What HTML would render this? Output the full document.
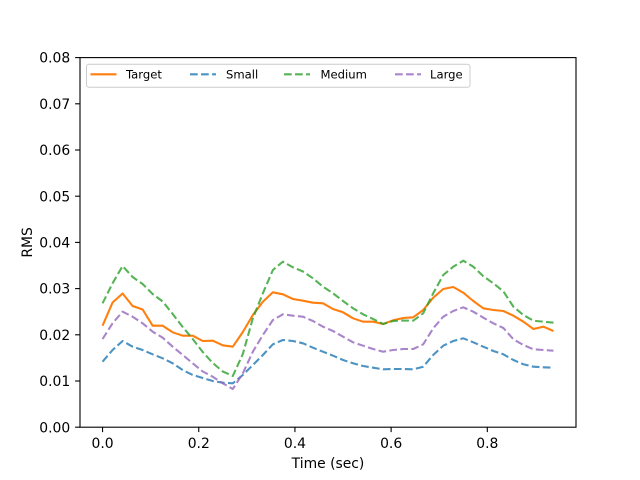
<!DOCTYPE html>
<html>
<head>
<meta charset="utf-8">
<style>
html,body{margin:0;padding:0;background:#fff;}
svg{display:block;}
text{font-family:"DejaVu Sans","Liberation Sans",sans-serif;fill:#000;}
</style>
</head>
<body>
<svg width="640" height="480" viewBox="0 0 640 480" xmlns="http://www.w3.org/2000/svg">
<rect x="0" y="0" width="640" height="480" fill="#fff"/>

<!-- series -->
<g fill="none" stroke-width="2.08" stroke-linejoin="round">
<polyline stroke="#ff7f0e" points="102.55,325.7 112.57,302.5 122.59,293.5 132.61,306 142.63,309.5 152.65,325.7 162.67,325.7 172.69,332.3 182.71,335.7 192.73,335.7 202.75,341 212.77,340.7 222.79,345.3 232.81,346.7 242.83,332 252.85,315 262.87,301.7 272.89,292.3 282.91,294.3 292.93,299 302.95,300.7 312.97,302.7 322.99,303.3 333.01,309 343.03,312.3 353.06,318.3 363.08,321.7 373.10,321.7 383.12,324 393.14,320.3 403.16,318 413.18,317.3 423.20,310 433.22,297.7 443.24,289 453.26,287 463.28,292.7 473.30,301 483.32,308.3 493.34,310 503.36,311 513.38,315.7 523.40,321.7 533.42,329 543.44,326.7 553.46,331"/>
<polyline stroke="#1f77b4" stroke-opacity="0.8" stroke-dasharray="7.7,3.33" points="102.55,361.7 112.57,350 122.59,341 132.61,346.7 142.63,350 152.65,354.3 162.67,358.3 172.69,363.3 182.71,370 192.73,375 202.75,378 212.77,381 222.79,382.7 232.81,383.3 242.83,375 252.85,365 262.87,355 272.89,344.3 282.91,340 292.93,341 302.95,343.3 312.97,347.7 322.99,351.7 333.01,355.7 343.03,360 353.06,363.3 363.08,366 373.10,367.7 383.12,369.3 393.14,369 403.16,369 413.18,369.3 423.20,366.7 433.22,355 443.24,345.7 453.26,341 463.28,338.3 473.30,342.3 483.32,346.7 493.34,351 503.36,354.3 513.38,360 523.40,364.3 533.42,366.7 543.44,367.3 553.46,367.7"/>
<polyline stroke="#2ca02c" stroke-opacity="0.8" stroke-dasharray="7.7,3.33" points="102.55,303.3 112.57,283.3 122.59,266 132.61,277 142.63,284 152.65,294 162.67,301.5 172.69,314 182.71,327 192.73,339 202.75,352 212.77,363 222.79,371.5 232.81,376 242.83,354 252.85,318.3 262.87,293.3 272.89,270 282.91,261.7 292.93,267.3 302.95,271.5 312.97,278.3 322.99,286.7 333.01,293.3 343.03,301 353.06,308.3 363.08,314.3 373.10,319 383.12,324 393.14,321 403.16,320.5 413.18,320.7 423.20,313.3 433.22,293.3 443.24,275 453.26,266.7 463.28,260.7 473.30,266.7 483.32,276.2 493.34,283.3 503.36,291.3 513.38,306.7 523.40,315 533.42,320.7 543.44,321.7 553.46,322.7"/>
<polyline stroke="#9467bd" stroke-opacity="0.8" stroke-dasharray="7.7,3.33" points="102.55,339 112.57,323.3 122.59,311.7 132.61,316.7 142.63,323.3 152.65,331.7 162.67,337.7 172.69,346.7 182.71,355 192.73,363.3 202.75,371.5 212.77,376.7 222.79,383.3 232.81,389 242.83,373.3 252.85,351.7 262.87,335 272.89,320 282.91,314.3 292.93,315.7 302.95,316.7 312.97,321 322.99,326.7 333.01,331 343.03,336.7 353.06,342.3 363.08,345.7 373.10,349 383.12,351.7 393.14,350 403.16,349 413.18,349 423.20,344.3 433.22,328.3 443.24,316.7 453.26,311 463.28,307.3 473.30,311.7 483.32,317.7 493.34,323.3 503.36,328 513.38,339.3 523.40,345 533.42,349.3 543.44,350 553.46,350.7"/>
</g>

<!-- axes frame -->
<rect x="80" y="57.6" width="496" height="369.6" fill="none" stroke="#000" stroke-width="1.1"/>

<!-- y ticks -->
<g stroke="#000" stroke-width="1.1">
<line x1="75.1" y1="427.2" x2="80" y2="427.2"/>
<line x1="75.1" y1="381.0" x2="80" y2="381.0"/>
<line x1="75.1" y1="334.8" x2="80" y2="334.8"/>
<line x1="75.1" y1="288.6" x2="80" y2="288.6"/>
<line x1="75.1" y1="242.4" x2="80" y2="242.4"/>
<line x1="75.1" y1="196.2" x2="80" y2="196.2"/>
<line x1="75.1" y1="150.0" x2="80" y2="150.0"/>
<line x1="75.1" y1="103.8" x2="80" y2="103.8"/>
<line x1="75.1" y1="57.6" x2="80" y2="57.6"/>
<!-- x ticks -->
<line x1="102.55" y1="427.2" x2="102.55" y2="432.1"/>
<line x1="198.74" y1="427.2" x2="198.74" y2="432.1"/>
<line x1="294.93" y1="427.2" x2="294.93" y2="432.1"/>
<line x1="391.12" y1="427.2" x2="391.12" y2="432.1"/>
<line x1="487.31" y1="427.2" x2="487.31" y2="432.1"/>
</g>

<g font-size="13.9" text-anchor="end">
<text x="70.2" y="432.3">0.00</text>
<text x="70.2" y="386.1">0.01</text>
<text x="70.2" y="339.9">0.02</text>
<text x="70.2" y="293.7">0.03</text>
<text x="70.2" y="247.5">0.04</text>
<text x="70.2" y="201.3">0.05</text>
<text x="70.2" y="155.1">0.06</text>
<text x="70.2" y="108.9">0.07</text>
<text x="70.2" y="62.7">0.08</text>
</g>
<g font-size="13.9" text-anchor="middle">
<text x="102.55" y="448">0.0</text>
<text x="198.74" y="448">0.2</text>
<text x="294.93" y="448">0.4</text>
<text x="391.12" y="448">0.6</text>
<text x="487.31" y="448">0.8</text>
<text x="328" y="468">Time (sec)</text>
<text x="0" y="0" transform="translate(32,242.4) rotate(-90)">RMS</text>
</g>

<!-- legend -->
<rect x="86.5" y="64.3" width="383.5" height="23" rx="2.5" ry="2.5" fill="#fff" fill-opacity="0.8" stroke="#cccccc" stroke-width="1"/>
<g fill="none" stroke-width="2.08">
<line x1="90.5" y1="74.3" x2="116.5" y2="74.3" stroke="#ff7f0e"/>
<line x1="190" y1="74.3" x2="216" y2="74.3" stroke="#1f77b4" stroke-opacity="0.8" stroke-dasharray="7.7,3.33"/>
<line x1="284" y1="74.3" x2="310" y2="74.3" stroke="#2ca02c" stroke-opacity="0.8" stroke-dasharray="7.7,3.33"/>
<line x1="395" y1="74.3" x2="421" y2="74.3" stroke="#9467bd" stroke-opacity="0.8" stroke-dasharray="7.7,3.33"/>
</g>
<g font-size="11.6">
<text x="126" y="78.5">Target</text>
<text x="226" y="78.5">Small</text>
<text x="320.5" y="78.5">Medium</text>
<text x="430" y="78.5">Large</text>
</g>
</svg>
</body>
</html>
